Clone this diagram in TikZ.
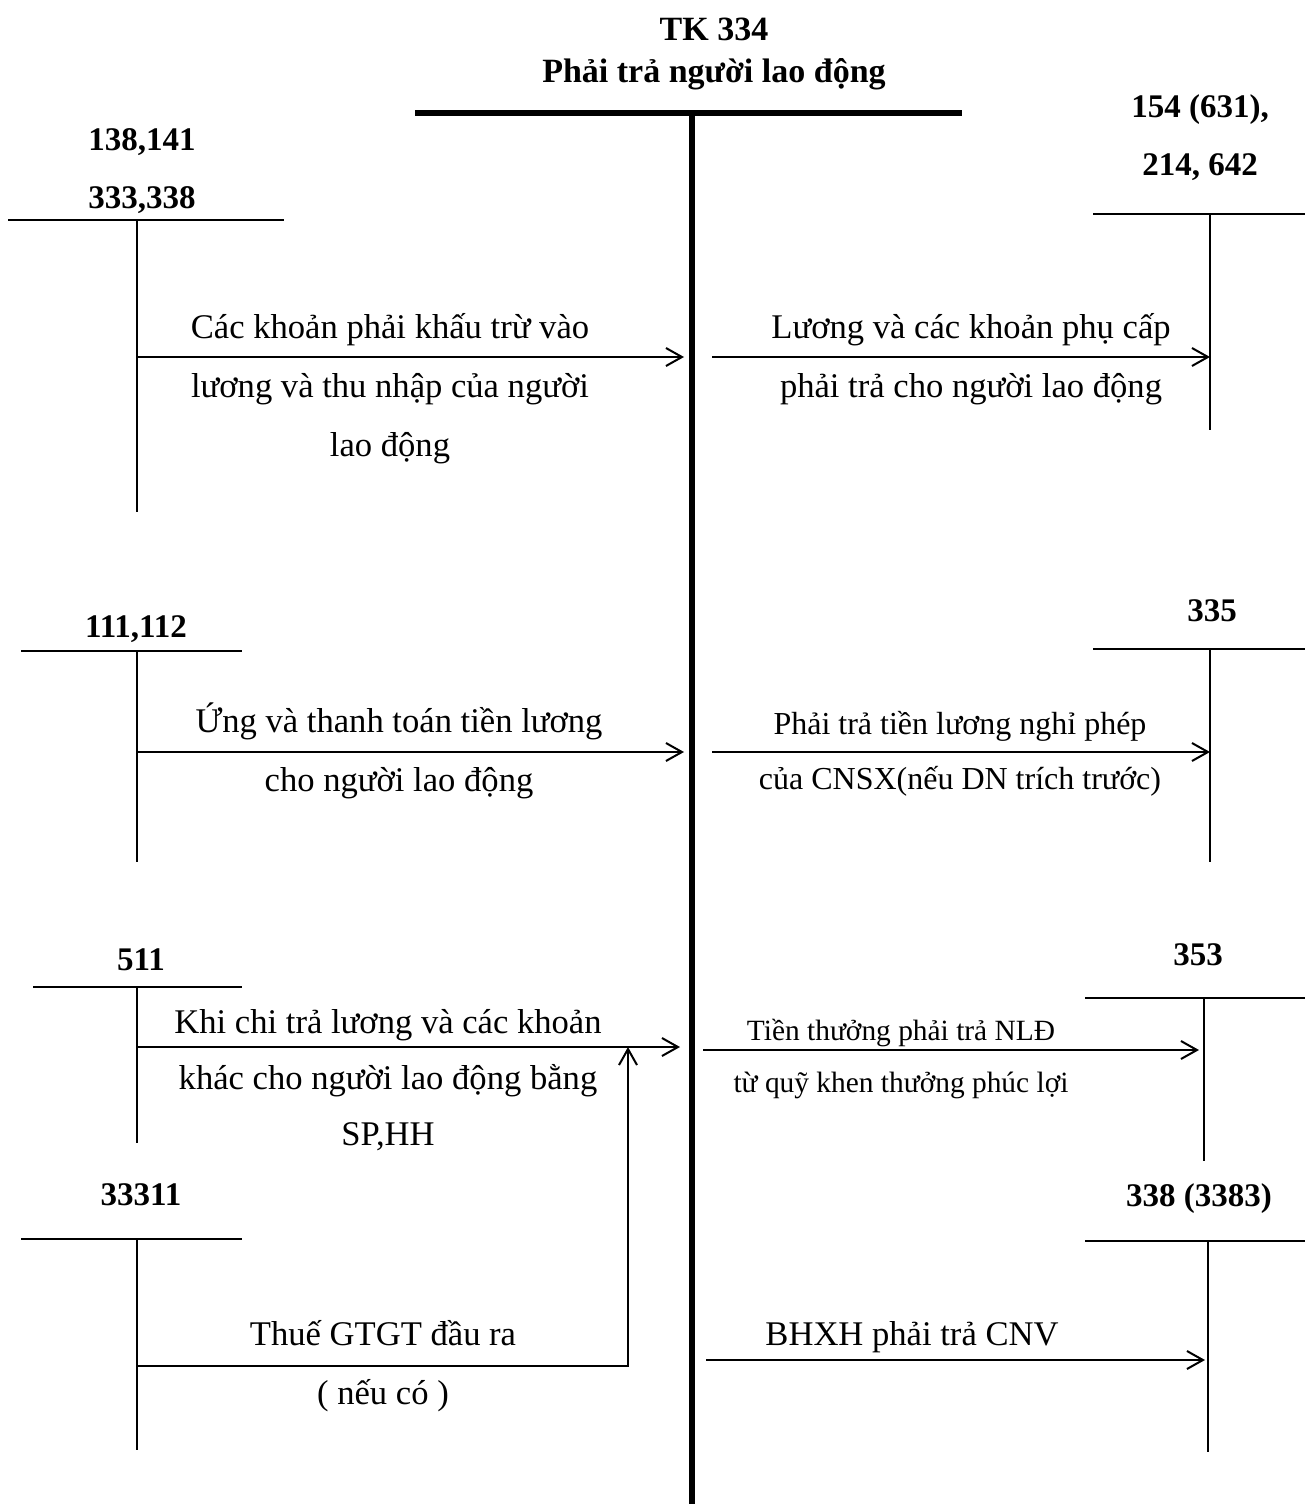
\documentclass[tikz,border=0pt]{standalone}
\usepackage{fontspec}
\setmainfont{Liberation Serif}
\usetikzlibrary{arrows.meta}

\begin{document}
\begin{tikzpicture}[x=0.5pt, y=-0.5pt,
	every node/.style={inner sep=0pt, align=center},
	head/.style={font=\fontsize{17}{21}\selectfont\bfseries},
	acc/.style={font=\fontsize{16.5}{29}\selectfont\bfseries},
	txt/.style={font=\fontsize{17.3}{29.5}\selectfont},
	smalltxt/.style={font=\fontsize{16}{27.5}\selectfont},
	tinytxt/.style={font=\fontsize{14.7}{26}\selectfont},
	tline/.style={line width=1pt},
	mainline/.style={line width=2.6pt},
	flow/.style={line width=1pt, -{Straight Barb[length=8pt,width=9pt]}}]
	
	\useasboundingbox (0,0) rectangle (1305,1504);
	
	% TK 334
	\node[head] (tk) at (714,54) {TK 334\\Phải trả người lao động};
	\draw[mainline] (415,113) -- (962,113);
	\draw[mainline] (692,113) -- (692,1504);
	
	% left accounts
	\node[acc] (a1) at (142,171) {138,141\\333,338};
	\draw[tline] (8,220) -- (284,220);
	\draw[tline] (137,220) -- (137,512);
	\node[acc] (a2) at (136,629) {111,112};
	\draw[tline] (21,651) -- (242,651);
	\draw[tline] (137,651) -- (137,862);
	\node[acc] (a3) at (141,960) {511};
	\draw[tline] (33,987) -- (242,987);
	\draw[tline] (137,987) -- (137,1143);
	\node[acc] (a4) at (141,1195) {33311};
	\draw[tline] (21,1239) -- (242,1239);
	\draw[tline] (137,1239) -- (137,1450);
	
	% right accounts
	\node[acc] (b1) at (1200,138) {154 (631),\\214, 642};
	\draw[tline] (1093,214) -- (1305,214);
	\draw[tline] (1210,214) -- (1210,430);
	\node[acc] (b2) at (1212,611) {335};
	\draw[tline] (1093,649) -- (1305,649);
	\draw[tline] (1210,649) -- (1210,862);
	\node[acc] (b3) at (1198,955) {353};
	\draw[tline] (1085,998) -- (1305,998);
	\draw[tline] (1204,998) -- (1204,1161);
	\node[acc] (b4) at (1199,1199) {338 (3383)};
	\draw[tline] (1085,1241) -- (1305,1241);
	\draw[tline] (1208,1241) -- (1208,1452);
	
	% arrow ends
	\coordinate (l1s) at (137,357);
	\coordinate (l1e) at (684,357);
	\coordinate (r1s) at (712,357);
	\coordinate (r1e) at (1210,357);
	\coordinate (l2s) at (137,752);
	\coordinate (l2e) at (684,752);
	\coordinate (r2s) at (712,752);
	\coordinate (r2e) at (1210,752);
	\coordinate (l3s) at (137,1047);
	\coordinate (l3e) at (680,1047);
	\coordinate (r3s) at (703,1050);
	\coordinate (r3e) at (1199,1050);
	\coordinate (l4s) at (137,1366);
	\coordinate (l4c) at (628,1366);
	\coordinate (l4e) at (628,1047);
	\coordinate (r4s) at (706,1360);
	\coordinate (r4e) at (1205,1360);
	
	\draw[flow] (l1s) -- (l1e);
	\draw[flow] (r1s) -- (r1e);
	\draw[flow] (l2s) -- (l2e);
	\draw[flow] (r2s) -- (r2e);
	\draw[flow] (l3s) -- (l3e);
	\draw[flow] (r3s) -- (r3e);
	\draw[flow] (l4s) -- (l4c) -- (l4e);
	\draw[flow] (r4s) -- (r4e);
	
	% texts
	\node[txt] (m1) at (390,389) {Các khoản phải khấu trừ vào\\lương và thu nhập của người\\lao động};
	\node[txt] (n1) at (971,359) {Lương và các khoản phụ cấp\\phải trả cho người lao động};
	\node[txt] (m2) at (399,751) {Ứng và thanh toán tiền lương\\cho người lao động};
	\node[smalltxt] (n2) at (960,754) {Phải trả tiền lương nghỉ phép\\của CNSX(nếu DN trích trước)};
	\node[txt, font=\fontsize{17.3}{28}\selectfont] (m3) at (388,1080) {Khi chi trả lương và các khoản\\khác cho người lao động bằng\\SP,HH};
	\node[tinytxt] (n3) at (901,1059) {Tiền thưởng phải trả NLĐ\\từ quỹ khen thưởng phúc lợi};
	\node[txt] (m4) at (383,1366) {Thuế GTGT đầu ra\\( nếu có )};
	\node[txt] (n4) at (912,1337) {BHXH phải trả CNV};
\end{tikzpicture}
\end{document}
